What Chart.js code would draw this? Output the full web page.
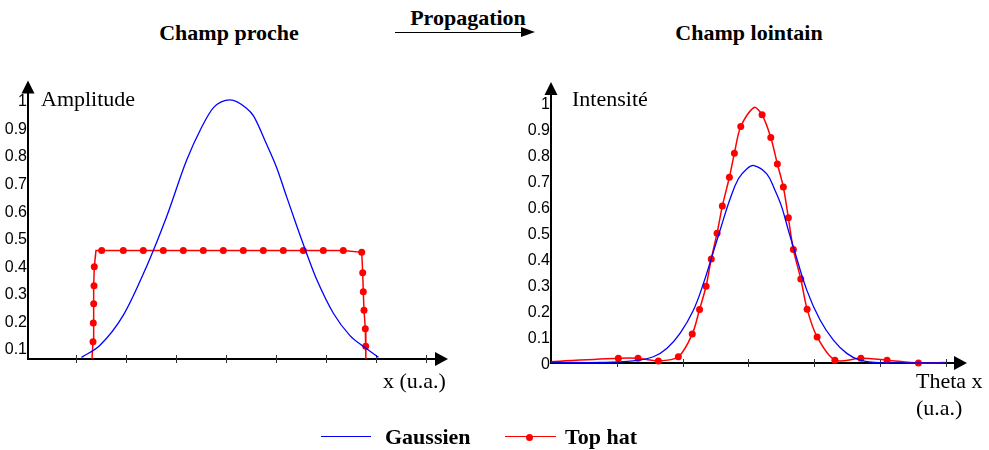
<!DOCTYPE html>
<html>
<head>
<meta charset="utf-8">
<script src="https://cdn.jsdelivr.net/npm/chart.js@4.4.0/dist/chart.umd.min.js"></script>
<style>
  body { margin: 0; background: #fff; }
  #page { position: relative; width: 989px; height: 450px; overflow: hidden; font-family: 'Liberation Serif', 'Times New Roman', serif; }
  .box { position: absolute; }
  .txt { position: absolute; font-size: 22px; line-height: 22px; white-space: nowrap; color: #000; }
  .b { font-weight: bold; }
  .c { text-align: center; width: 240px; }
</style>
</head>
<body>
<div id="page">
  <div class="txt b c" style="left:109px; top:21.6px;">Champ proche</div>
  <div class="txt b c" style="left:348px; top:6.6px;">Propagation</div>
  <div class="box" style="left:395px; top:32px; width:127px; height:0; border-top:1.6px solid #000;"></div>
  <div class="box" style="left:521px; top:27.3px; width:0; height:0; border-top:5.5px solid transparent; border-bottom:5.5px solid transparent; border-left:14px solid #000;"></div>
  <div class="txt b c" style="left:629px; top:21.6px;">Champ lointain</div>

  <div class="box" style="left:0; top:70px; width:460px; height:310px;"><canvas id="near"></canvas></div>
  <div class="box" style="left:500px; top:70px; width:489px; height:310px;"><canvas id="far"></canvas></div>

  <div class="txt" style="left:41px; top:87.6px;">Amplitude</div>
  <div class="txt" style="left:383px; top:369.6px;">x (u.a.)</div>
  <div class="txt" style="left:572px; top:87.6px;">Intensité</div>
  <div class="txt" style="left:916px; top:369.6px;">Theta x</div>
  <div class="txt" style="left:916px; top:396.6px;">(u.a.)</div>

  <div class="box" style="left:321px; top:436px; width:50px; border-top:1.5px solid #0000ff;"></div>
  <div class="txt b" style="left:385px; top:425.6px;">Gaussien</div>
  <div class="box" style="left:505px; top:436px; width:51px; border-top:1.5px solid #ff0000;"></div>
  <div class="box" style="left:526px; top:433.5px; width:7px; height:7px; border-radius:50%; background:#ff0000;"></div>
  <div class="txt b" style="left:565px; top:425.6px;">Top hat</div>
</div>
<script>
// Champ proche
const nearGaussX = [0.11, 0.48, 0.95, 1.41, 1.81, 2.21, 2.51, 2.75, 3.08, 3.41, 3.55, 3.81, 4.01, 4.21, 4.41, 4.68, 4.81, 5.15, 5.48, 5.75, 6.05];
const nearGauss  = [0.066, 0.11, 0.22, 0.395, 0.575, 0.78, 0.9, 0.972, 1.0, 0.97, 0.942, 0.84, 0.756, 0.65, 0.545, 0.41, 0.35, 0.225, 0.145, 0.105, 0.066];
const nearHatX = [0.32, 0.34, 0.346, 0.354, 0.36, 0.366, 0.40,
  0.514, 0.946, 1.346, 1.746, 2.146, 2.546, 2.946, 3.346, 3.746, 4.146, 4.546, 4.946, 5.346,
  5.714, 5.734, 5.746, 5.76, 5.786, 5.794, 5.80];
const nearHat = [0.06, 0.123, 0.191, 0.26, 0.326, 0.395, 0.454,
  0.454, 0.454, 0.454, 0.454, 0.454, 0.454, 0.454, 0.454, 0.454, 0.454, 0.454, 0.454, 0.454,
  0.447, 0.373, 0.304, 0.237, 0.17, 0.106, 0.06];
const nearHatNoMarker = [0.32, 0.40, 5.80];
const nearXTicks = [0, 1, 2, 3, 4, 5, 6, 7];
const nearYTicks = [0.1, 0.2, 0.3, 0.4, 0.5, 0.6, 0.7, 0.8, 0.9, 1];

// Champ lointain
const farGaussX = [0, 0.745, 1.251, 1.555, 1.758, 1.96, 2.163, 2.315, 2.442, 2.568, 2.72, 2.847, 2.974, 3.085, 3.278, 3.404, 3.506, 3.606, 3.682, 3.886, 4.088, 4.29, 4.494, 4.696, 5.0, 5.99];
const farGauss  = [0.003, 0.002, 0.008, 0.024, 0.056, 0.114, 0.203, 0.305, 0.407, 0.51, 0.63, 0.708, 0.746, 0.759, 0.727, 0.663, 0.599, 0.51, 0.446, 0.28, 0.165, 0.088, 0.037, 0.011, 0.001, 0.0];
const farHatX = [0, 1.023, 1.322, 1.631, 1.935, 2.146, 2.257, 2.356, 2.435, 2.523, 2.603, 2.71, 2.786, 2.883, 3.085, 3.207, 3.339, 3.439, 3.53, 3.606, 3.682, 3.795, 3.891, 4.043, 4.313, 4.708, 5.106, 5.582, 5.99];
const farHat  = [0.005, 0.018, 0.018, 0.008, 0.024, 0.111, 0.206, 0.295, 0.40, 0.499, 0.603, 0.714, 0.806, 0.909, 0.982, 0.954, 0.867, 0.765, 0.676, 0.558, 0.436, 0.323, 0.207, 0.10, 0.011, 0.018, 0.011, 0.0, 0.002];
const farHatNoMarker = [0, 3.085, 5.99];
const farXTicks = [1, 2, 3, 4, 5, 6];
const farYTicks = [0, 0.1, 0.2, 0.3, 0.4, 0.5, 0.6, 0.7, 0.8, 0.9, 1];

function pts(xs, ys) { return xs.map((x, i) => ({ x: x, y: ys[i] })); }

// axes drawn as arrows, with small crossing ticks on x
const arrowAxes = {
  id: 'arrowAxes',
  beforeDatasetsDraw(chart, args, opts) {
    const ctx = chart.ctx, a = chart.chartArea, x = chart.scales.x;
    ctx.save();
    ctx.strokeStyle = '#000';
    ctx.fillStyle = '#000';
    ctx.lineWidth = 2;
    ctx.beginPath();
    ctx.moveTo(a.left - 1, a.bottom);
    ctx.lineTo(a.right - 10, a.bottom);
    ctx.moveTo(a.left, a.bottom + 1);
    ctx.lineTo(a.left, a.top + 10);
    ctx.stroke();
    ctx.beginPath();
    ctx.moveTo(a.right, a.bottom);
    ctx.lineTo(a.right - 13, a.bottom - 7);
    ctx.lineTo(a.right - 13, a.bottom + 7);
    ctx.closePath();
    ctx.fill();
    ctx.beginPath();
    ctx.moveTo(a.left, a.top);
    ctx.lineTo(a.left - 6.5, a.top + 13);
    ctx.lineTo(a.left + 6.5, a.top + 13);
    ctx.closePath();
    ctx.fill();
    ctx.lineWidth = 1;
    ctx.strokeStyle = '#333';
    opts.ticks.forEach(v => {
      const px = Math.round(x.getPixelForValue(v)) + 0.5;
      ctx.beginPath();
      ctx.moveTo(px, a.bottom - 4);
      ctx.lineTo(px, a.bottom + 4);
      ctx.stroke();
    });
    ctx.restore();
  }
};

function makeChart(id, cfg) {
  return new Chart(document.getElementById(id), {
    type: 'line',
    data: {
      datasets: [{
        label: 'Gaussien',
        data: pts(cfg.gx, cfg.gy),
        borderColor: '#0000ff',
        borderWidth: 1.3,
        pointRadius: 0,
        cubicInterpolationMode: cfg.gaussMode,
        tension: 0.4,
        clip: false
      }, {
        label: 'Top hat',
        data: pts(cfg.hx, cfg.hy),
        borderColor: '#ff0000',
        backgroundColor: '#ff0000',
        borderWidth: 1.5,
        pointRadius: c => cfg.noMarker.includes(cfg.hx[c.dataIndex]) ? 0 : 3.5,
        pointBorderWidth: 0,
        tension: cfg.hatTension,
        clip: false
      }]
    },
    options: {
      responsive: true,
      maintainAspectRatio: false,
      animation: false,
      layout: { padding: cfg.padding },
      plugins: {
        legend: { display: false },
        tooltip: { enabled: false },
        arrowAxes: { ticks: cfg.xTicks }
      },
      scales: {
        x: { type: 'linear', display: false, min: cfg.xMin, max: cfg.xMax },
        y: {
          min: cfg.yMin,
          max: cfg.yMax,
          afterFit: s => { s.width = cfg.yWidth; },
          afterBuildTicks: s => { s.ticks = cfg.yTicks.map(v => ({ value: v })); },
          grid: { display: false, drawTicks: false },
          border: { display: false },
          ticks: {
            padding: 1,
            labelOffset: 2,
            color: '#000',
            font: { family: "'Liberation Sans', Arial, sans-serif", size: 16 },
            callback: v => String(v)
          }
        }
      }
    },
    plugins: [arrowAxes]
  });
}

makeChart('near', {
  gx: nearGaussX, gy: nearGauss, hx: nearHatX, hy: nearHat, noMarker: nearHatNoMarker,
  gaussMode: 'monotone', hatTension: 0, xTicks: nearXTicks, yTicks: nearYTicks,
  xMin: -0.96, xMax: 7.44, yMin: 0.06, yMax: 1.07, yWidth: 28,
  padding: { left: 0, right: 12, top: 10, bottom: 21 }
});

makeChart('far', {
  gx: farGaussX, gy: farGauss, hx: farHatX, hy: farHat, noMarker: farHatNoMarker,
  gaussMode: 'default', hatTension: 0.3, xTicks: farXTicks, yTicks: farYTicks,
  xMin: 0, xMax: 6.32, yMin: 0, yMax: 1.08, yWidth: 51,
  padding: { left: 0, right: 22, top: 12, bottom: 17 }
});
</script>
</body>
</html>
